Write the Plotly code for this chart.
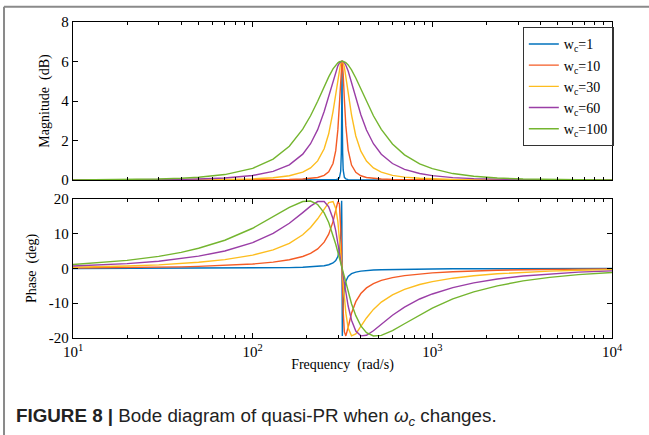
import plotly.graph_objects as go

freq = [10, 15, 20, 30, 40, 50, 70, 100, 130, 160, 190, 210, 230, 250, 265, 280, 290, 298,
        304, 309, 311.5, 312.8, 313.6, 314.16, 314.7, 315.5, 316.8, 319, 324, 330, 340, 355,
        375, 400, 430, 470, 520, 600, 700, 850, 1000, 1300, 1700, 2300, 3200, 4500, 6500, 10000]

series_names = ["w<sub>c</sub>=1", "w<sub>c</sub>=10", "w<sub>c</sub>=30", "w<sub>c</sub>=60", "w<sub>c</sub>=100"]

mag_wc1 = [0, 0, 0, 0, 0, 0, 0, 0, 0, 0, 0, 0, 0.001, 0.002, 0.005, 0.010, 0.021, 0.047,
           0.120, 0.442, 1.364, 3.123, 5.164, 6.021, 5.215, 3.166, 1.395, 0.511, 0.135, 0.054, 0.021, 0.009,
           0.004, 0.002, 0.001, 0, 0, 0, 0, 0, 0, 0, 0, 0, 0, 0, 0, 0]
mag_wc10 = [0, 0, 0, 0, 0.001, 0.001, 0.003, 0.007, 0.013, 0.025, 0.048, 0.076, 0.128, 0.237, 0.416, 0.838, 1.487, 2.550,
            3.902, 5.265, 5.798, 5.961, 6.010, 6.021, 6.010, 5.963, 5.804, 5.363, 4.061, 2.753, 1.516, 0.754,
            0.386, 0.213, 0.127, 0.076, 0.048, 0.027, 0.017, 0.010, 0.006, 0.004, 0.002, 0.001, 0, 0, 0, 0]
mag_wc30 = [0.0005, 0.001, 0.002, 0.004, 0.008, 0.013, 0.026, 0.059, 0.116, 0.216, 0.400, 0.613, 0.968, 1.583, 2.339, 3.466, 4.408, 5.182,
            5.664, 5.925, 6.000, 6.017, 6.020, 6.021, 6.020, 6.017, 6.000, 5.938, 5.702, 5.278, 4.437, 3.291,
            2.228, 1.458, 0.957, 0.613, 0.398, 0.236, 0.146, 0.086, 0.058, 0.031, 0.017, 0.009, 0.005, 0.002, 0.001, 0]
mag_wc60 = [0.002, 0.004, 0.008, 0.018, 0.032, 0.050, 0.102, 0.228, 0.435, 0.769, 1.308, 1.838, 2.550, 3.466, 4.258, 5.051, 5.503, 5.782,
            5.926, 5.998, 6.015, 6.020, 6.020, 6.021, 6.020, 6.020, 6.015, 5.999, 5.937, 5.813, 5.515, 4.949,
            4.159, 3.305, 2.531, 1.838, 1.303, 0.834, 0.539, 0.327, 0.221, 0.122, 0.069, 0.037, 0.019, 0.009, 0.005, 0.002]
mag_wc100 = [0.005, 0.012, 0.022, 0.049, 0.087, 0.137, 0.275, 0.589, 1.056, 1.710, 2.572, 3.254, 3.990, 4.725, 5.223, 5.626, 5.822, 5.932,
             5.986, 6.010, 6.020, 6.020, 6.021, 6.021, 6.021, 6.020, 6.020, 6.010, 5.990, 5.944, 5.827, 5.579,
             5.166, 4.609, 3.973, 3.254, 2.565, 1.826, 1.272, 0.819, 0.572, 0.326, 0.187, 0.100, 0.051, 0.026, 0.012, 0.005]

ph_wc1 = [0.01, 0.02, 0.02, 0.04, 0.05, 0.06, 0.09, 0.13, 0.18, 0.25, 0.35, 0.44, 0.58, 0.79, 1.07, 1.58, 2.27, 3.42,
          5.44, 10.15, 16.29, 19.45, 13.61, 0, -13.26, -19.45, -16.42, -10.85, -5.77, -3.67, -2.30, -1.49,
          -1.03, -0.75, -0.57, -0.44, -0.35, -0.26, -0.21, -0.16, -0.13, -0.09, -0.07, -0.05, -0.04, -0.03, -0.02, -0.01]
ph_wc10 = [0.12, 0.17, 0.23, 0.35, 0.47, 0.60, 0.86, 1.29, 1.82, 2.50, 3.45, 4.35, 5.62, 7.58, 9.88, 13.48, 16.80, 19.25,
           18.60, 12.90, 7.35, 3.86, 1.60, 0, -1.55, -3.80, -7.24, -12.14, -18.25, -19.40, -16.91, -12.90,
           -9.54, -7.20, -5.58, -4.35, -3.44, -2.62, -2.04, -1.56, -1.27, -0.94, -0.70, -0.51, -0.36, -0.26, -0.18, -0.12]
ph_wc30 = [0.35, 0.52, 0.70, 1.05, 1.41, 1.78, 2.55, 3.84, 5.35, 7.24, 9.69, 11.78, 14.30, 17.14, 18.98, 19.26, 17.25, 13.49,
           9.19, 4.87, 2.54, 1.29, 0.53, 0, -0.52, -1.28, -2.50, -4.52, -8.73, -12.80, -17.16, -19.38,
           -18.81, -16.68, -14.24, -11.78, -9.67, -7.57, -5.99, -4.62, -3.78, -2.79, -2.09, -1.52, -1.09, -0.77, -0.53, -0.34]
ph_wc60 = [0.70, 1.05, 1.40, 2.10, 2.82, 3.54, 5.04, 7.44, 10.08, 13.00, 16.07, 17.93, 19.25, 19.26, 17.72, 14.30, 10.92, 7.59,
           4.83, 2.47, 1.27, 0.65, 0.27, 0, -0.26, -0.64, -1.25, -2.28, -4.55, -7.11, -10.80, -14.89,
           -18.00, -19.38, -19.22, -17.93, -16.04, -13.45, -11.12, -8.78, -7.33, -5.49, -4.14, -3.03, -2.16, -1.53, -1.06, -0.69]
ph_wc100 = [1.16, 1.74, 2.32, 3.49, 4.65, 5.81, 8.13, 11.57, 14.82, 17.56, 19.26, 19.41, 18.42, 16.01, 13.21, 9.65, 6.96, 4.68,
            2.93, 1.49, 0.76, 0.39, 0.16, 0, -0.15, -0.38, -0.75, -1.37, -2.76, -4.37, -6.88, -10.15,
            -13.58, -16.50, -18.46, -19.41, -19.26, -17.90, -15.90, -13.34, -11.42, -8.77, -6.75, -4.99, -3.58, -2.55, -1.76, -1.15]

mag_ticks = [0, 2, 4, 6, 8]
phase_ticks = [-20, -10, 0, 10, 20]
phase_ticktext = ["-20", "-10", "0", "10", "20"]
x_ticks = [10, 100, 1000, 10000]
x_ticktext = ["10<sup>1</sup>", "10<sup>2</sup>", "10<sup>3</sup>", "10<sup>4</sup>"]
caption = "<b>FIGURE 8 |</b> Bode diagram of quasi-PR when <i>ω<sub>c</sub></i> changes."

colors = ["#0072BD", "#F45B25", "#FDBD1F", "#9A3EA6", "#74B52F"]
mags = [mag_wc1, mag_wc10, mag_wc30, mag_wc60, mag_wc100]
phases = [ph_wc1, ph_wc10, ph_wc30, ph_wc60, ph_wc100]

fig = go.Figure()
for name, m, c in zip(series_names, mags, colors):
    fig.add_trace(go.Scatter(x=freq, y=m, mode="lines", name=name,
                             line=dict(color=c, width=1.4), xaxis="x", yaxis="y"))
for name, p, c in zip(series_names, phases, colors):
    fig.add_trace(go.Scatter(x=freq, y=p, mode="lines", name=name, showlegend=False,
                             line=dict(color=c, width=1.4), xaxis="x2", yaxis="y2"))

minor_vals = [k * 10 ** e for e in range(1, 4) for k in range(2, 10)]
serif = "Liberation Serif, Times New Roman, serif"
axis_common = dict(showline=True, linecolor="black", linewidth=1.3, mirror="ticks",
                   ticks="inside", tickcolor="black", showgrid=False, zeroline=False,
                   tickfont=dict(family=serif, size=15, color="black"))

border = dict(color="#8a8a8a", width=2)

fig.update_layout(
    width=649, height=435, autosize=False,
    margin=dict(l=73, r=37, t=22, b=97),
    paper_bgcolor="white", plot_bgcolor="white",
    xaxis=dict(type="log", range=[1, 4], domain=[0, 1], anchor="y",
               tickvals=x_ticks, ticktext=x_ticktext, showticklabels=False, ticklen=5,
               minor=dict(ticks="inside", ticklen=3, tickcolor="black", tickvals=minor_vals),
               **axis_common),
    yaxis=dict(range=[0, 8], domain=[0.5, 1], anchor="x", tickvals=mag_ticks, ticklen=5,
               title=dict(text="Magnitude  (dB)", font=dict(family=serif, size=14, color="black"), standoff=8),
               **axis_common),
    xaxis2=dict(type="log", range=[1, 4], domain=[0, 1], anchor="y2", matches="x",
                tickvals=x_ticks, ticktext=x_ticktext, ticklen=5,
                minor=dict(ticks="inside", ticklen=3, tickcolor="black", tickvals=minor_vals),
                title=dict(text="Frequency  (rad/s)", font=dict(family=serif, size=14, color="black"), standoff=0),
                **axis_common),
    yaxis2=dict(range=[-20, 20], domain=[0, 0.44], anchor="x2", tickvals=phase_ticks,
                ticktext=phase_ticktext, ticklen=5,
                title=dict(text="Phase  (deg)", font=dict(family=serif, size=14, color="black"), standoff=8),
                **axis_common),
    legend=dict(x=0.834, y=0.984, xanchor="left", yanchor="top",
                bgcolor="white", bordercolor="#333", borderwidth=1.3,
                font=dict(family=serif, size=14, color="black"),
                tracegroupgap=0, itemwidth=30),
    shapes=[
        dict(type="line", xref="paper", yref="paper", x0=-0.128, x1=1.2, y0=1.048, y1=1.048, line=border),
        dict(type="line", xref="paper", yref="paper", x0=-0.128, x1=-0.128, y0=-0.5, y1=1.048, line=border),
    ],
    annotations=[dict(text=caption, xref="paper", yref="paper", x=-0.11, y=-0.25,
                      xanchor="left", yanchor="middle", showarrow=False,
                      font=dict(family="Liberation Sans, Arial, sans-serif", size=18.8, color="#222"))],
)

fig.write_html("out.html", config={"displayModeBar": False},
               post_script="document.body.style.margin='0';")
